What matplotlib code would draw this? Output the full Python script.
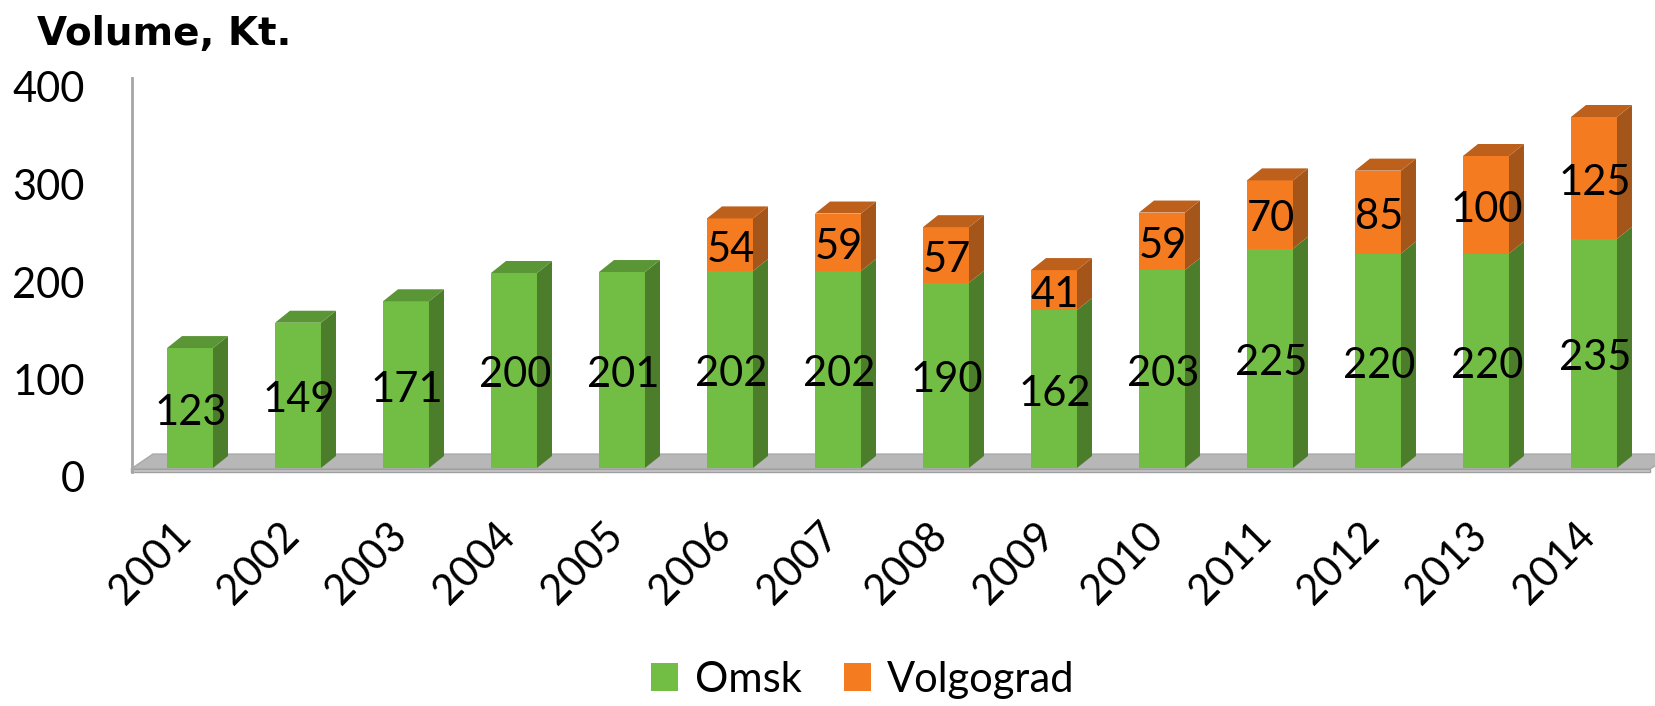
import matplotlib
matplotlib.use("Agg")
import matplotlib.pyplot as plt
from matplotlib.patches import Polygon, Patch
from matplotlib.transforms import ScaledTranslation

plt.rcParams['font.family'] = ['Lato', 'DejaVu Sans']

years = ['2001', '2002', '2003', '2004', '2005', '2006', '2007',
         '2008', '2009', '2010', '2011', '2012', '2013', '2014']
omsk = [123, 149, 171, 200, 201, 202, 202, 190, 162, 203, 225, 220, 220, 235]
volgograd = [0, 0, 0, 0, 0, 54, 59, 57, 41, 59, 70, 85, 100, 125]
series_names = ['Omsk', 'Volgograd']
yticks = [0, 100, 200, 300, 400]

front_cols = ['#72BE44', '#F47B20']
side_cols = ['#4B7D2B', '#A4561A']
top_cols = ['#5A9636', '#BC601C']

W, H = 1655, 706
fig = plt.figure(figsize=(W / 100, H / 100), dpi=100)
ax = fig.add_axes([132 / W, (H - 468) / H, (W - 132) / W, 390 / H])
ax.set_ylim(0, 400)
ax.set_xlim(-0.537, 13.565)
for s in ax.spines.values():
    s.set_visible(False)

# pixel-to-data helpers for depth effect
px_x = 108.0   # pixels per x unit
px_y = 390 / 400.0
dx = 15 / px_x
dy = 12 / px_y
bw = 46 / px_x

# floor
fx = lambda p: (p - 190) / px_x
floor_top = Polygon([(fx(131), -1), (fx(153), 14.3), (fx(1675), 14.3), (fx(1650), -1)],
                    closed=True, facecolor='#B7B7B7', edgecolor='#A8A8A8', lw=1,
                    clip_on=False, zorder=1)
ax.add_patch(floor_top)
floor_front = Polygon([(fx(131), -1), (fx(1650), -1), (fx(1650), -4.6), (fx(131), -4.6)],
                      closed=True, facecolor='#C9C9C9', edgecolor='#A0A0A0', lw=1,
                      clip_on=False, zorder=1)
ax.add_patch(floor_front)
ax.plot([fx(132), fx(132)], [-4.6, 400], color='#A6A6A6', lw=2, clip_on=False, zorder=1)

x = list(range(len(years)))
for si, vals in enumerate([omsk, volgograd]):
    bottoms = [0] * len(vals) if si == 0 else omsk
    ax.bar(x, vals, width=bw, bottom=bottoms, color=front_cols[si], zorder=3,
           linewidth=0)
    for i in x:
        v = vals[i]
        if v <= 0:
            continue
        y0 = bottoms[i]
        y1 = y0 + v
        xr = i + bw / 2
        xl = i - bw / 2
        ax.add_patch(Polygon([(xr, y0), (xr + dx, y0 + dy), (xr + dx, y1 + dy), (xr, y1)],
                             closed=True, facecolor=side_cols[si], lw=0, zorder=3,
                             clip_on=False))
        is_top = (si == 1) or (volgograd[i] == 0)
        if is_top:
            ax.add_patch(Polygon([(xl, y1), (xl + dx, y1 + dy), (xr + dx, y1 + dy), (xr, y1)],
                                 closed=True, facecolor=top_cols[si], lw=0, zorder=3,
                                 clip_on=False))
        ax.text(i + 0.01, y0 + v / 2 - 5, str(v), ha='center', va='center',
                fontsize=30, color='black', zorder=5)

# y ticks
ax.set_yticks(yticks)
ax.set_yticklabels([str(t) for t in yticks], fontsize=30)
ax.tick_params(axis='y', length=0, pad=34)
for lab in ax.get_yticklabels():
    lab.set_transform(lab.get_transform() + ScaledTranslation(0, -9 / 100, fig.dpi_scale_trans))

# x ticks
ax.set_xticks(x)
ax.set_xticklabels(years, fontsize=30, rotation=45, ha='right', va='center',
                   rotation_mode='anchor')
ax.tick_params(axis='x', length=0, pad=44)
for lab in ax.get_xticklabels():
    lab.set_transform(lab.get_transform() + ScaledTranslation(-5 / 100, 0, fig.dpi_scale_trans))

fig.text(37 / W, 1 - 45 / H, 'Volume, Kt.', fontsize=28, fontweight='bold',
         family='DejaVu Sans', ha='left', va='baseline')

handles = [Patch(facecolor=front_cols[0]), Patch(facecolor=front_cols[1])]
fig.legend(handles, series_names, loc='center', bbox_to_anchor=(863 / W, 1 - 680 / H),
           ncol=2, frameon=False, fontsize=30, handlelength=0.65, handleheight=0.65,
           handletextpad=0.4, columnspacing=1.0, borderaxespad=0, borderpad=0)

fig.savefig('out.png', dpi=100)
